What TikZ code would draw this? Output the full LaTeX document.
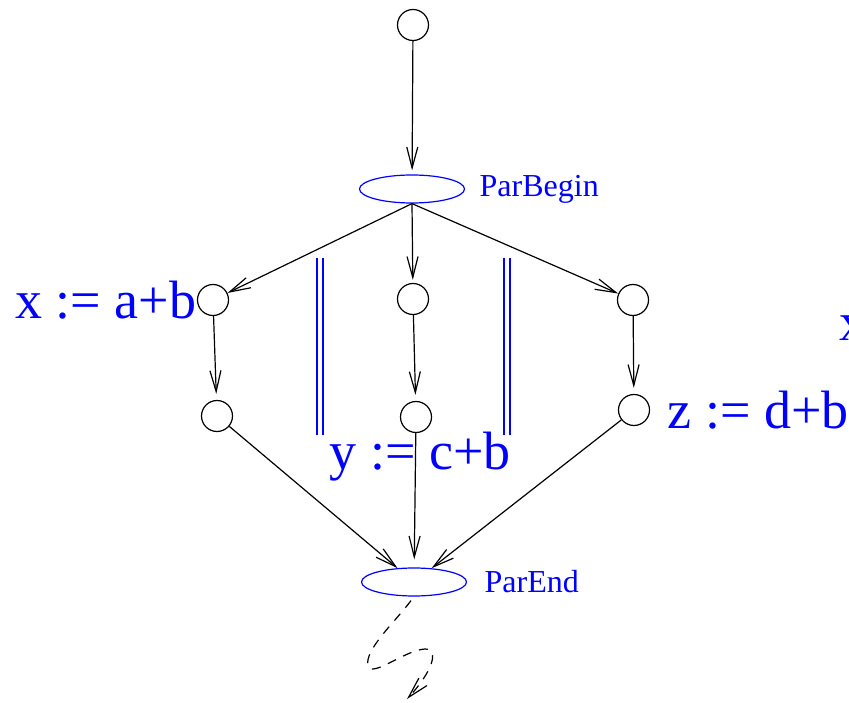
\documentclass[tikz,border=0pt]{standalone}
\usepackage{fontspec}
\setmainfont{Liberation Serif}
\usetikzlibrary{arrows.meta,positioning,shapes.geometric}

\begin{document}
\begin{tikzpicture}[x=1pt,y=-1pt,line width=1.2pt,>={Straight Barb[length=21pt,width=11pt]}]
\tikzstyle{st}=[draw,circle,minimum size=31pt,inner sep=0pt]
\tikzstyle{par}=[draw=blue,ellipse,inner sep=0pt,minimum width=105pt,minimum height=28pt]
\tikzstyle{small}=[text=blue,inner sep=0pt,font=\fontsize{32}{38}\selectfont]
\tikzstyle{asg}=[text=blue,inner sep=0pt,font=\fontsize{54}{64}\selectfont]
\tikzstyle{bar}=[draw=blue,double,double distance=4.8pt]
\useasboundingbox (0,0) rectangle (849,703);

\node[st] (top) at (413,25) {};
\node[par] (pb) at (412,189) {};
\node[small,right=14pt of pb] (pbl) {ParBegin};

\node[st] (l1) at (213,300) {};
\node[st] (m1) at (413,299) {};
\node[st] (r1) at (633,300) {};
\node[st] (l2) at (217,416) {};
\node[st] (m2) at (416,417) {};
\node[st] (r2) at (634,410) {};

\node[par] (pe) at (414,582) {};
\node[small,right=17pt of pe] (pel) {ParEnd};

\node[asg,left=0pt of l1] (xl) {x := a+b};
\node[asg,below=-2pt of m2,xshift=4pt] (yl) {y := c+b};
\node[asg,right=17pt of r2] (zl) {z := d+b};
\node[asg,anchor=base west] (xr) at (839,341) {x};

% parallel bars
\coordinate (b1) at (320,258); \coordinate (b2) at (320,435);
\coordinate (b3) at (507,258); \coordinate (b4) at (507,435);
\draw[bar] (b1) -- (b2);
\draw[bar] (b3) -- (b4);

\draw[->,shorten >=4pt] (top) -- (pb);
\draw[->] (pb.south) -- (l1);
\draw[->,shorten >=3pt] (pb.south) -- (m1);
\draw[->] (pb.south) -- (r1);
\draw[->,shorten >=6pt] (l1) -- (l2);
\draw[->,shorten >=6pt] (m1) -- (m2);
\draw[->,shorten >=6pt] (r1) -- (r2);
\draw[->] (l2) -- (pe);
\draw[->,shorten >=8pt] (m2) -- (pe);
\draw[->] (r2) -- (pe);

\coordinate (out) at (407,699);
\draw[->,dash pattern=on 9pt off 8pt,shorten <=5pt] (pe.south) .. controls (395,622) and (364,650) .. (368,666)
  .. controls (372,678) and (405,650) .. (425,649) .. controls (440,649) and (432,672) .. (out);
\end{tikzpicture}
\end{document}
